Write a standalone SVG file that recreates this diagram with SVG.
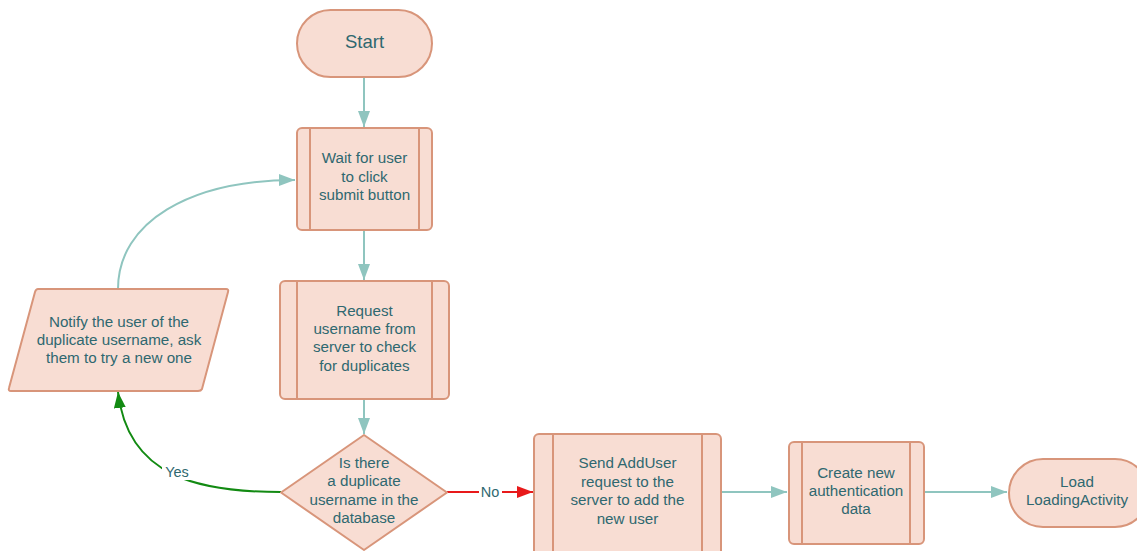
<svg xmlns="http://www.w3.org/2000/svg" width="1137" height="551" viewBox="0 0 1137 551">
  <style>
    .shape { fill: #F8DDD3; stroke: #D8957A; stroke-width: 2; }
    .bar { fill: none; stroke: #D8957A; stroke-width: 2; }
    .label { font-family: "Liberation Sans", Arial, sans-serif; font-size: 15.2px; fill: #2F6870; text-anchor: middle; }
    .big { font-size: 18.5px; }
    .flow { fill: none; stroke: #8FC5BF; stroke-width: 2; }
    .yes { fill: none; stroke: #128A12; stroke-width: 2; }
    .no { fill: none; stroke: #E8191A; stroke-width: 2; }
    .tag { font-family: "Liberation Sans", Arial, sans-serif; font-size: 14.5px; fill: #2F6870; text-anchor: middle; }
  </style>
  <defs>
    <marker id="arrowTeal" viewBox="0 0 16 12" refX="16" refY="6" markerWidth="16" markerHeight="12" markerUnits="userSpaceOnUse" orient="auto">
      <path d="M0,0 L16,6 L0,12 Z" fill="#8FC5BF"/>
    </marker>
    <marker id="arrowGreen" viewBox="0 0 16 12" refX="16" refY="6" markerWidth="16" markerHeight="12" markerUnits="userSpaceOnUse" orient="auto">
      <path d="M0,0 L16,6 L0,12 Z" fill="#128A12"/>
    </marker>
    <marker id="arrowRed" viewBox="0 0 16 12" refX="16" refY="6" markerWidth="16" markerHeight="12" markerUnits="userSpaceOnUse" orient="auto">
      <path d="M0,0 L16,6 L0,12 Z" fill="#E8191A"/>
    </marker>
  </defs>

  <g id="connectors">
    <path class="flow" d="M364,77 L364,127" marker-end="url(#arrowTeal)"/>
    <path class="flow" d="M364,230 L364,280" marker-end="url(#arrowTeal)"/>
    <path class="flow" d="M364,399 L364,434" marker-end="url(#arrowTeal)"/>
    <path class="flow" d="M118,289 C118,222 190,180 295,180" marker-end="url(#arrowTeal)"/>
    <path class="yes" d="M281,492 C200,492 128,478 118,392" marker-end="url(#arrowGreen)"/>
    <path class="no" d="M447,492 L533,492" marker-end="url(#arrowRed)"/>
    <path class="flow" d="M721,492 L787,492" marker-end="url(#arrowTeal)"/>
    <path class="flow" d="M924,492 L1007,492" marker-end="url(#arrowTeal)"/>
    <rect x="162" y="463" width="30" height="17" fill="#FFFFFF"/>
    <text class="tag" x="177" y="477">Yes</text>
    <rect x="479" y="484" width="23" height="16" fill="#FFFFFF"/>
    <text class="tag" x="490" y="497">No</text>
  </g>

  <g id="start">
    <rect class="shape" x="297" y="10" width="135" height="67" rx="33.5"/>
    <text class="label big" x="364.5" y="48">Start</text>
  </g>

  <g id="wait">
    <rect class="shape" x="297" y="128" width="135" height="102" rx="5"/>
    <line class="bar" x1="310" y1="128" x2="310" y2="230"/>
    <line class="bar" x1="419" y1="128" x2="419" y2="230"/>
    <text class="label" x="364.5" y="163">Wait for user</text>
    <text class="label" x="364.5" y="182">to click</text>
    <text class="label" x="364.5" y="200">submit button</text>
  </g>

  <g id="request">
    <rect class="shape" x="280" y="281" width="169" height="118" rx="5"/>
    <line class="bar" x1="297" y1="281" x2="297" y2="399"/>
    <line class="bar" x1="432" y1="281" x2="432" y2="399"/>
    <text class="label" x="364.5" y="316">Request</text>
    <text class="label" x="364.5" y="334">username from</text>
    <text class="label" x="364.5" y="352">server to check</text>
    <text class="label" x="364.5" y="371">for duplicates</text>
  </g>

  <g id="decision">
    <path class="shape" d="M364,435 L447,492.5 L364,550 L281,492.5 Z" stroke-linejoin="round"/>
    <text class="label" x="364" y="468">Is there</text>
    <text class="label" x="364" y="486">a duplicate</text>
    <text class="label" x="364" y="505">username in the</text>
    <text class="label" x="364" y="523">database</text>
  </g>

  <g id="notify">
    <path class="shape" d="M38,289 L226,289 Q229,289 228,292 L202,389 Q201,391 198,391 L11,391 Q8,391 9,388 L35,292 Q36,289 38,289 Z"/>
    <text class="label" x="119" y="327">Notify the user of the</text>
    <text class="label" x="119" y="345">duplicate username, ask</text>
    <text class="label" x="119" y="363">them to try a new one</text>
  </g>

  <g id="send">
    <rect class="shape" x="534" y="434" width="187" height="124" rx="5"/>
    <line class="bar" x1="553" y1="434" x2="553" y2="558"/>
    <line class="bar" x1="702" y1="434" x2="702" y2="558"/>
    <text class="label" x="627.5" y="468">Send AddUser</text>
    <text class="label" x="627.5" y="487">request to the</text>
    <text class="label" x="627.5" y="505">server to add the</text>
    <text class="label" x="627.5" y="524">new user</text>
  </g>

  <g id="create">
    <rect class="shape" x="789" y="442" width="135" height="102" rx="5"/>
    <line class="bar" x1="802" y1="442" x2="802" y2="544"/>
    <line class="bar" x1="910" y1="442" x2="910" y2="544"/>
    <text class="label" x="856" y="478">Create new</text>
    <text class="label" x="856" y="496">authentication</text>
    <text class="label" x="856" y="514">data</text>
  </g>

  <g id="load">
    <rect class="shape" x="1009" y="459" width="140" height="68" rx="34"/>
    <text class="label" x="1077" y="487">Load</text>
    <text class="label" x="1077" y="505">LoadingActivity</text>
  </g>
</svg>
